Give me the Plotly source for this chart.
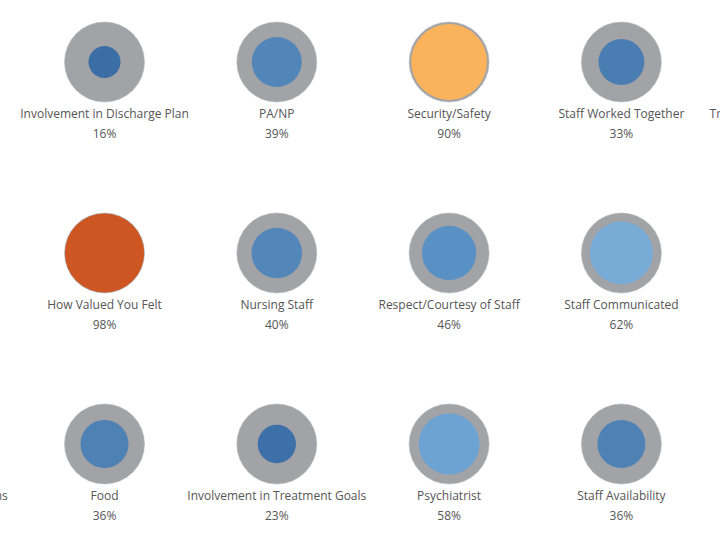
import plotly.graph_objects as go

# ---- data ----
labels = [
    "Involvement in Discharge Plan", "PA/NP", "Security/Safety", "Staff Worked Together", "Treatment Progress Explained",
    "How Valued You Felt", "Nursing Staff", "Respect/Courtesy of Staff", "Staff Communicated",
    "Answers to Your Questions", "Food", "Involvement in Treatment Goals", "Psychiatrist", "Staff Availability",
]
values = [16, 39, 90, 33, 50,
          98, 40, 46, 62,
          50, 36, 23, 58, 36]
cols = [1, 2, 3, 4, 5,
        1, 2, 3, 4,
        0, 1, 2, 3, 4]
rows = [1, 1, 1, 1, 1,
        2, 2, 2, 2,
        3, 3, 3, 3, 3]

# ---- style ----
OUTER = 80  # px diameter of the grey "100%" disc
ROW_PX = 191.0
FONT = "Open Sans"
TXT = "#555555"

colorscale = [
    [0.00, "#2b5c8f"],
    [0.16, "#3a6ea5"],
    [0.23, "#3d70a8"],
    [0.36, "#4e81b4"],
    [0.46, "#5a91c4"],
    [0.58, "#6ca3d3"],
    [0.62, "#78acd7"],
    [0.76, "#e9ecef"],
    [0.90, "#fbb35b"],
    [0.98, "#cd5622"],
    [1.00, "#c24d1c"],
]

inner_sizes = [OUTER * (v / 100) ** 0.5 for v in values]
pct_text = [f"{v}%" for v in values]

fig = go.Figure()
fig.add_trace(go.Scatter(
    x=cols, y=rows, mode="markers", hoverinfo="skip",
    marker=dict(size=OUTER, color="#a2a3a7", opacity=1,
                line=dict(width=0.6, color="#b8b9bc")),
))
fig.add_trace(go.Scatter(
    x=cols, y=rows, mode="markers", hovertext=labels,
    marker=dict(size=inner_sizes, sizemode="diameter", color=values, opacity=1,
                colorscale=colorscale, cmin=0, cmax=100, line=dict(width=0)),
))
fig.add_trace(go.Scatter(
    x=cols, y=[r + 53 / ROW_PX for r in rows], mode="text", text=labels,
    textposition="middle center", hoverinfo="skip",
    textfont=dict(family=FONT, size=12, color=TXT), cliponaxis=True,
))
fig.add_trace(go.Scatter(
    x=cols, y=[r + 73 / ROW_PX for r in rows], mode="text", text=pct_text,
    textposition="middle center", hoverinfo="skip",
    textfont=dict(family=FONT, size=12, color=TXT), cliponaxis=True,
))

col_px = 172.3
x0 = 1 - 104.5 / col_px
x1 = 1 + (720 - 104.5) / col_px
y0 = 1 - 62 / ROW_PX
y1 = 1 + (540 - 62) / ROW_PX

fig.update_layout(
    width=720, height=540, margin=dict(l=0, r=0, t=0, b=0),
    paper_bgcolor="white", plot_bgcolor="white", showlegend=False,
    xaxis=dict(range=[x0, x1], visible=False, fixedrange=True),
    yaxis=dict(range=[y1, y0], visible=False, fixedrange=True),
)
fig.write_html("out.html")
